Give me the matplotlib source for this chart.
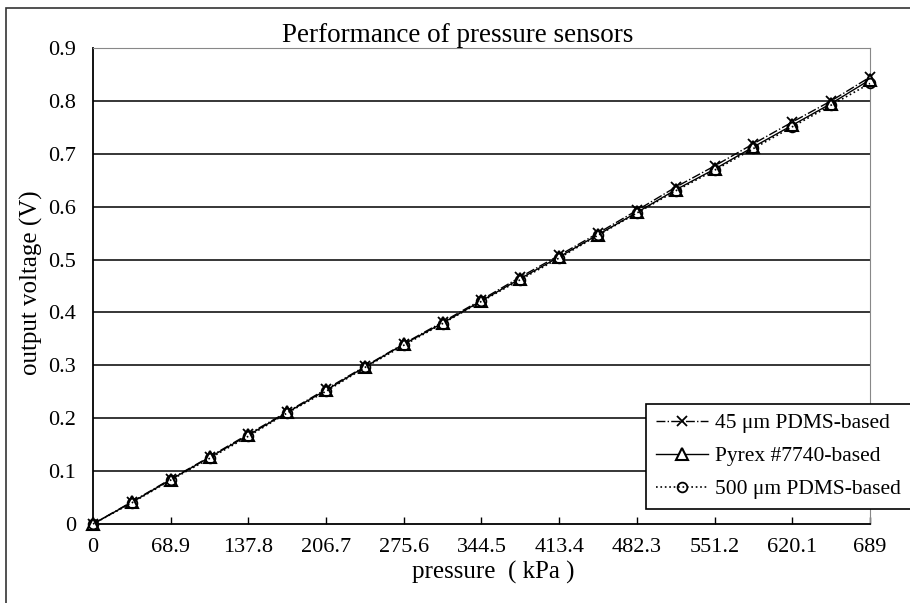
import numpy as np
import matplotlib
matplotlib.use("Agg")
import matplotlib.pyplot as plt
from matplotlib.patches import Rectangle

plt.rcParams['font.family'] = ['Liberation Serif', 'DejaVu Serif']

# pressure steps (kPa)
pressure = [0, 34.45, 68.9, 103.35, 137.8, 172.25, 206.7, 241.15, 275.6, 310.05,
            344.5, 378.95, 413.4, 447.85, 482.3, 516.75, 551.2, 585.65, 620.1,
            654.55, 689]
v_pdms45 = [0, 0.042, 0.085, 0.127, 0.170, 0.212, 0.255, 0.298, 0.341, 0.382,
            0.424, 0.467, 0.508, 0.550, 0.593, 0.637, 0.677, 0.719, 0.760,
            0.800, 0.845]
v_pyrex = [0, 0.041, 0.084, 0.126, 0.168, 0.211, 0.253, 0.297, 0.340, 0.380,
           0.422, 0.464, 0.505, 0.547, 0.589, 0.632, 0.671, 0.713, 0.754,
           0.795, 0.840]
v_pdms500 = [0, 0.040, 0.083, 0.124, 0.166, 0.210, 0.251, 0.296, 0.338, 0.379,
             0.421, 0.462, 0.503, 0.546, 0.588, 0.630, 0.669, 0.710, 0.751,
             0.792, 0.833]

xticks = [0, 68.9, 137.8, 206.7, 275.6, 344.5, 413.4, 482.3, 551.2, 620.1, 689]
xticklabels = ['0', '68.9', '137.8', '206.7', '275.6', '344.5', '413.4',
               '482.3', '551.2', '620.1', '689']
yticks = [0, 0.1, 0.2, 0.3, 0.4, 0.5, 0.6, 0.7, 0.8, 0.9]
yticklabels = ['0', '0.1', '0.2', '0.3', '0.4', '0.5', '0.6', '0.7', '0.8', '0.9']

fig = plt.figure(figsize=(9.1, 6.03), dpi=100)
W, H = 910.0, 603.0
ax = fig.add_axes([93 / W, 1 - 524 / H, 777 / W, 476 / H])

# outer frame of the picture
fig.patches.append(Rectangle((6 / W, -0.1), 1.2, 1 - 8 / H + 0.1,
                             transform=fig.transFigure, fill=False,
                             edgecolor='#333333', linewidth=1.2))

for y in yticks[1:-1]:
    ax.axhline(y, color='black', linewidth=1.1, zorder=1)

ax.plot(pressure, v_pdms45, linestyle='-.', color='black', linewidth=1.0,
        marker='x', markersize=7, markeredgewidth=1.3, label='45 μm PDMS-based',
        zorder=3, clip_on=False)
ax.plot(pressure, v_pyrex, linestyle='-', color='black', linewidth=1.0,
        marker='^', markersize=8, markerfacecolor='white', markeredgewidth=1.5,
        label='Pyrex #7740-based', zorder=3, clip_on=False)
ax.plot(pressure, v_pdms500, linestyle=':', color='black', linewidth=1.2,
        marker='o', markersize=7, markerfacecolor='none', markeredgewidth=1.3,
        label='500 μm PDMS-based', zorder=3, clip_on=False)

ax.set_xlim(0, 689)
ax.set_ylim(0, 0.9)
ax.set_xticks(xticks)
ax.set_xticklabels(xticklabels)
ax.set_yticks(yticks)
ax.set_yticklabels(yticklabels)
ax.tick_params(axis='x', direction='in', length=5, width=1, labelsize=16, pad=10)
ax.tick_params(axis='y', length=0, labelsize=16, pad=12)

ax.spines['left'].set_linewidth(1.3)
ax.spines['bottom'].set_linewidth(1.3)
ax.spines['top'].set_color('#888888')
ax.spines['right'].set_color('#888888')
for s in ax.spines.values():
    s.set_zorder(2)

fig.text(458 / W, 1 - 35 / H, 'Performance of pressure sensors', ha='center',
         va='center', fontsize=19.5)
fig.text(31 / W, 1 - 283 / H, 'output voltage (V)', rotation=90, ha='center',
         va='center', fontsize=18)
fig.text(493 / W, 1 - 572 / H, 'pressure  ( kPa )', ha='center', va='center',
         fontsize=18)

leg = ax.legend(loc='lower left', bbox_to_anchor=(0.712, 0.0315), borderaxespad=0,
                fontsize=15.5, frameon=True, fancybox=False, edgecolor='black',
                framealpha=1, handlelength=2.4, handletextpad=0.35,
                borderpad=0.45, labelspacing=0.6)
leg.get_frame().set_linewidth(1.2)

fig.savefig('out.png', dpi=100)
